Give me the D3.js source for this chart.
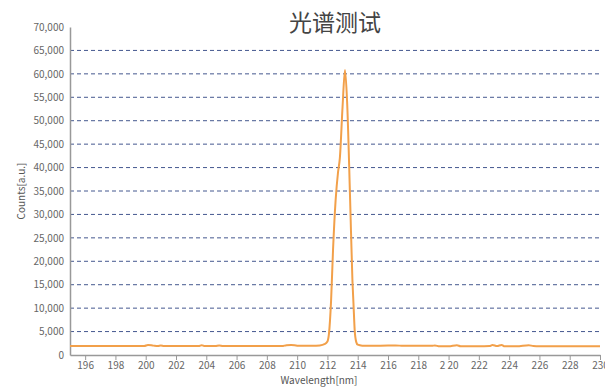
<!DOCTYPE html>
<html>
<head>
<meta charset="utf-8">
<script src="https://cdn.jsdelivr.net/npm/d3@7"></script>
<style>
  html, body { margin: 0; padding: 0; background: #fff; }
  svg { display: block; font-family: "Noto Sans CJK SC", "Noto Sans", sans-serif; }
</style>
</head>
<body>
<svg id="chart" width="605" height="389"></svg>
<script>
// Spectrum samples: wavelength (nm) and counts (a.u.)
const wavelength = [
  195.0, 196.0, 197.0, 198.0, 199.0, 199.9, 200.15, 200.5, 200.8, 201.0, 201.2,
  202.0, 203.0, 203.5, 203.7, 203.9, 204.6, 204.85, 205.1, 206.0, 207.0, 208.0,
  209.0, 209.3, 209.6, 210.0, 210.5, 211.0, 211.5, 211.8, 212.0, 212.1, 212.24,
  212.37, 212.54, 212.7, 212.82, 213.0, 213.16, 213.3, 213.5, 213.65, 213.72,
  213.8, 213.9, 214.0, 214.3, 215.0, 216.0, 216.5, 217.0, 218.0, 218.9, 219.1,
  219.4, 220.0, 220.55, 220.8, 222.0, 222.7, 222.9, 223.2, 223.5, 223.7, 224.5,
  225.3, 225.6, 226.0, 228.0, 230.0
];
const counts = [
  1900, 1900, 1900, 1900, 1900, 1900, 2150, 2000, 1900, 2050, 1900,
  1900, 1900, 1900, 2100, 1900, 1900, 2050, 1900, 1900, 1900, 1900,
  1900, 2100, 2150, 2000, 1950, 1950, 2050, 2300, 2900, 4500, 11500,
  22400, 33000, 39000, 42000, 53000, 60800, 54000, 33000, 16000, 11000,
  5300, 2800, 2200, 2000, 1950, 2050, 2050, 1950, 1950, 1950, 2050,
  1850, 1850, 2100, 1850, 1850, 1900, 2150, 1900, 2150, 1850, 1850,
  2100, 1900, 1850, 1850, 1850
];

// Axis ticks
const xTicks = [196, 198, 200, 202, 204, 206, 208, 210, 212, 214, 216, 218, 220, 222, 224, 226, 228, 230];
const xTickLabels = ["196", "198", "200", "202", "204", "206", "208", "210", "212", "214", "216", "218", "2 20", "222", "224", "226", "228", "230"];
const yTicks = [0, 5000, 10000, 15000, 20000, 25000, 30000, 35000, 40000, 45000, 50000, 55000, 60000, 65000, 70000];
const gridValues = yTicks.filter(v => v > 0 && v < 70000);

const titleText = "光谱测试";
const xLabel = "Wavelength[nm]";
const yLabel = "Counts[a.u.]";

const svg = d3.select("#chart");
const plotLeft = 70, plotRight = 600, plotTop = 27, plotBottom = 355;

const x = d3.scaleLinear().domain([195, 230]).range([plotLeft, plotRight]);
const y = d3.scaleLinear().domain([0, 70000]).range([plotBottom, plotTop]);

// Dashed horizontal grid
svg.append("g")
  .selectAll("line")
  .data(gridValues)
  .join("line")
  .attr("x1", plotLeft)
  .attr("x2", plotRight)
  .attr("y1", d => y(d))
  .attr("y2", d => y(d))
  .attr("stroke", "#45588f")
  .attr("stroke-width", 1)
  .attr("stroke-dasharray", "4,3");

// X axis
const fmtX = d => xTickLabels[xTicks.indexOf(d)];
const xAxis = svg.append("g")
  .attr("transform", `translate(0,${plotBottom})`)
  .call(d3.axisBottom(x).tickValues(xTicks).tickFormat(fmtX).tickSize(5).tickSizeOuter(0).tickPadding(2));
xAxis.select(".domain").attr("stroke", "#999").attr("stroke-width", 1.5);
xAxis.selectAll(".tick line").attr("stroke", "#999");
xAxis.selectAll(".tick text")
  .attr("fill", "#666")
  .attr("font-size", 10)
  .style("font-family", "\"Noto Sans CJK SC\", \"Noto Sans\", sans-serif");

// Y axis
const fmtY = d3.format(",");
const yAxis = svg.append("g")
  .attr("transform", `translate(${plotLeft},0)`)
  .call(d3.axisLeft(y).tickValues(yTicks).tickFormat(fmtY).tickSize(0).tickSizeOuter(0).tickPadding(6));
yAxis.select(".domain").attr("stroke", "#999").attr("stroke-width", 1.5);
yAxis.selectAll(".tick text")
  .attr("fill", "#666")
  .attr("font-size", 10)
  .style("font-family", "\"Noto Sans CJK SC\", \"Noto Sans\", sans-serif");

// Spectrum line
const pts = wavelength.map((w, i) => [w, counts[i]]);
const line = d3.line()
  .x(d => x(d[0]))
  .y(d => y(d[1]))
  .curve(d3.curveMonotoneX);

svg.append("path")
  .datum(pts)
  .attr("d", line)
  .attr("fill", "none")
  .attr("stroke", "#f2a04a")
  .attr("stroke-width", 2)
  .attr("stroke-linejoin", "round");

// Title
svg.append("text")
  .attr("x", 335)
  .attr("y", 31)
  .attr("text-anchor", "middle")
  .attr("font-size", 23)
  .attr("fill", "#444")
  .text(titleText);

// Axis labels
svg.append("text")
  .attr("x", 319)
  .attr("y", 384)
  .attr("text-anchor", "middle")
  .attr("font-size", 10)
  .attr("fill", "#555")
  .text(xLabel);

svg.append("text")
  .attr("transform", "translate(25,191) rotate(-90)")
  .attr("text-anchor", "middle")
  .attr("font-size", 10)
  .attr("fill", "#555")
  .text(yLabel);
</script>
</body>
</html>
